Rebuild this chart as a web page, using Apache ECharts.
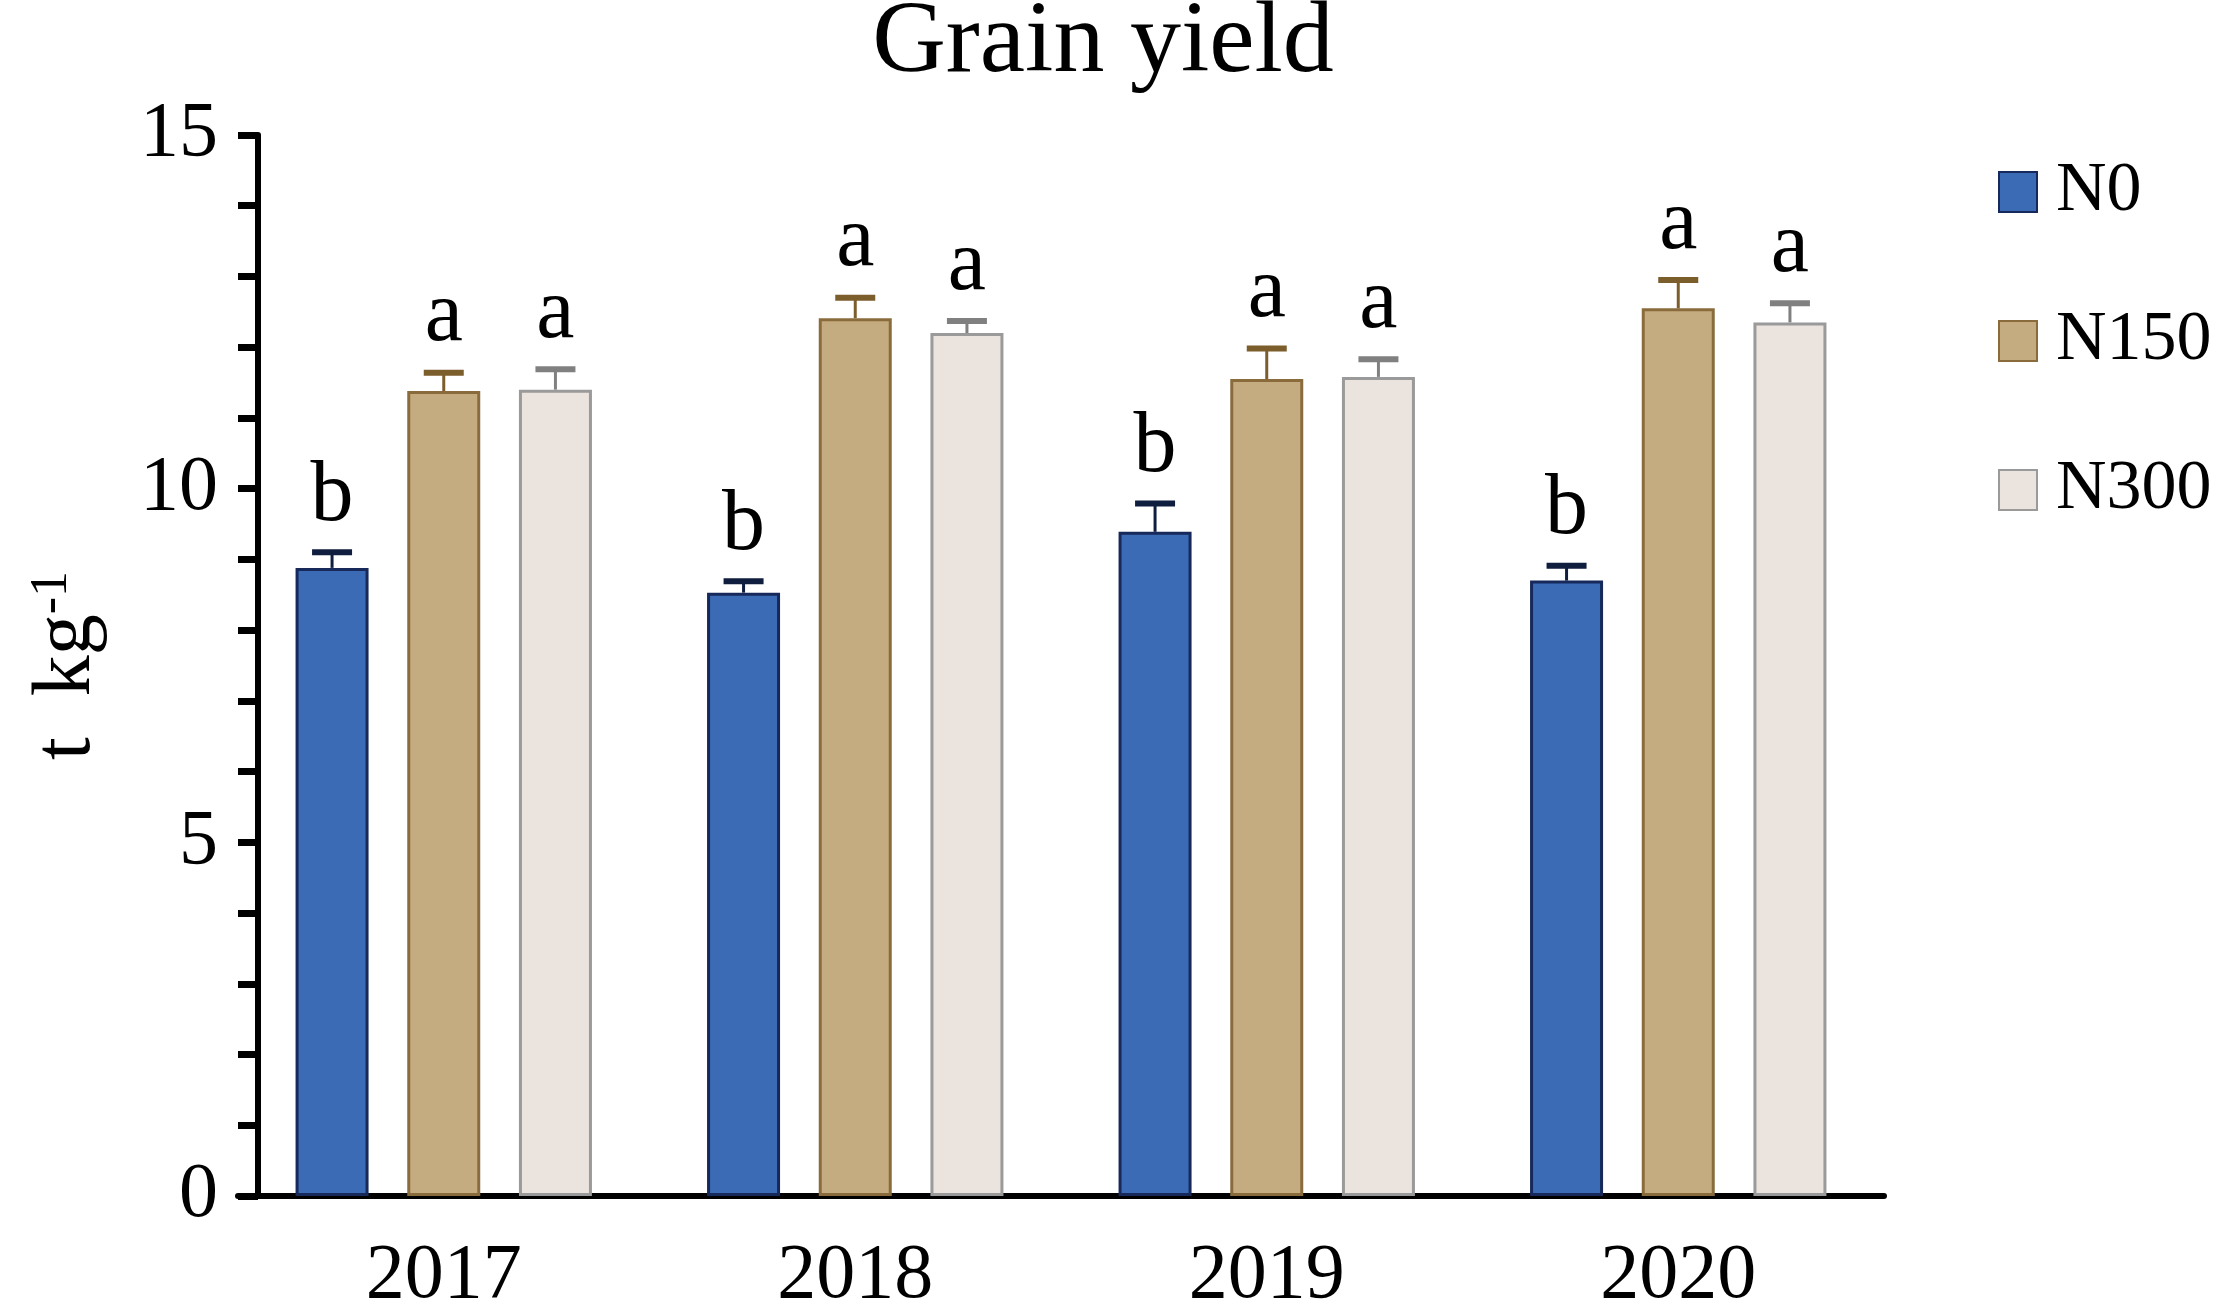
<!DOCTYPE html>
<html>
<head>
<meta charset="utf-8">
<script src="https://cdn.jsdelivr.net/npm/echarts@6/dist/echarts.min.js"></script>
<style>
  html, body { margin: 0; padding: 0; background: #fff; }
  #chart { width: 2217px; height: 1316px; }
</style>
</head>
<body>
<div id="chart"></div>
<script>
var years = ['2017', '2018', '2019', '2020']
var seriesNames = ['N0', 'N150', 'N300']

// means and standard errors, t kg-1
var n0 = [8.88, 8.53, 9.39, 8.70]
var n150 = [11.38, 12.41, 11.55, 12.55]
var n300 = [11.40, 12.20, 11.58, 12.35]
var n0Err = [0.22, 0.16, 0.40, 0.21]
var n150Err = [0.26, 0.29, 0.43, 0.40]
var n300Err = [0.29, 0.17, 0.25, 0.27]
var n0Letters = ['b', 'b', 'b', 'b']
var n150Letters = ['a', 'a', 'a', 'a']
var n300Letters = ['a', 'a', 'a', 'a']

var yTicks = [0, 5, 10, 15]

var FONT = '"Liberation Serif", "Times New Roman", serif'
var BAR_W = 73
var BAR_GAP = 0.53
var STEP = BAR_W * (1 + BAR_GAP)

var fills = ['#3b6bb4', '#c4ab80', '#ebe3dd']
var borders = ['#16295a', '#8a6c3c', '#9a9a9a']
var errColors = ['#0f1d3e', '#7c5d2c', '#808080']

var means = [n0, n150, n300]
var errs = [n0Err, n150Err, n300Err]
var letters = [n0Letters, n150Letters, n300Letters]

var chart = echarts.init(document.getElementById('chart'), null, {renderer: 'canvas'})

function barSeries (i) {
  return {
    name: seriesNames[i],
    type: 'bar',
    barWidth: BAR_W,
    barGap: (BAR_GAP * 100) + '%',
    itemStyle: {
      color: fills[i],
      borderColor: borders[i],
      borderWidth: 3
    },
    z: 2,
    data: means[i]
  }
}

function errSeries (i) {
  return {
    type: 'custom',
    z: 3,
    silent: true,
    data: means[i].map(function (v, k) { return [k, v, errs[i][k]] }),
    renderItem: function (params, api) {
      var cat = api.value(0)
      var mean = api.value(1)
      var err = api.value(2)
      var base = api.coord([cat, mean])
      var top = api.coord([cat, mean + err])
      var x = base[0] + (i - 1) * STEP
      var color = errColors[i]
      return {
        type: 'group',
        children: [{
          type: 'line',
          shape: {x1: x, y1: base[1], x2: x, y2: top[1]},
          style: {stroke: color, lineWidth: 3}
        }, {
          type: 'line',
          shape: {x1: x - 20, y1: top[1], x2: x + 20, y2: top[1]},
          style: {stroke: color, lineWidth: 6}
        }, {
          type: 'text',
          style: {
            text: letters[i][params.dataIndex],
            x: x,
            y: top[1] - 12,
            align: 'center',
            verticalAlign: 'bottom',
            fontSize: 86,
            fontFamily: FONT,
            fill: '#000'
          }
        }]
      }
    }
  }
}

var series = []
for (var s = 0; s < 3; s++) series.push(barSeries(s))
for (var e = 0; e < 3; e++) series.push(errSeries(e))

var option = {
  backgroundColor: '#fff',
  animation: false,
  title: {
    text: 'Grain yield',
    left: 1098,
    textAlign: 'center',
    top: -12,
    textStyle: {
      fontFamily: FONT,
      fontSize: 102,
      fontWeight: 'normal',
      color: '#000'
    }
  },
  legend: {
    data: seriesNames,
    orient: 'vertical',
    left: 1993,
    top: 152,
    icon: 'rect',
    itemWidth: 38,
    itemHeight: 40,
    itemGap: 79,
    textStyle: {
      fontFamily: FONT,
      fontSize: 70,
      color: '#000',
      padding: [0, 0, 0, 14]
    }
  },
  grid: {
    left: 238,
    right: 333,
    top: 135,
    bottom: 108,
    containLabel: false
  },
  xAxis: {
    type: 'category',
    data: years,
    axisLine: {
      lineStyle: {color: '#000', width: 6}
    },
    axisTick: {
      alignWithLabel: true,
      length: 26,
      lineStyle: {color: '#000', width: 7}
    },
    axisLabel: {
      margin: 42,
      fontFamily: FONT,
      fontSize: 78,
      color: '#000'
    }
  },
  yAxis: {
    type: 'value',
    min: yTicks[0],
    max: yTicks[yTicks.length - 1],
    interval: 5,
    offset: -20,
    name: 't  kg{sup|-1}',
    nameLocation: 'middle',
    nameGap: 150,
    nameRotate: 90,
    nameTextStyle: {
      fontFamily: FONT,
      fontSize: 82,
      color: '#000',
      rich: {
        sup: {
          fontFamily: FONT,
          fontSize: 52,
          verticalAlign: 'top',
          color: '#000'
        }
      }
    },
    axisLine: {
      show: true,
      lineStyle: {color: '#000', width: 6}
    },
    axisTick: {
      show: true,
      length: 20,
      lineStyle: {color: '#000', width: 7}
    },
    minorTick: {
      show: true,
      splitNumber: 5,
      length: 20,
      lineStyle: {color: '#000', width: 7}
    },
    splitLine: {show: false},
    axisLabel: {
      margin: 40,
      fontFamily: FONT,
      fontSize: 78,
      color: '#000'
    }
  },
  series: series
}

chart.setOption(option)
</script>
</body>
</html>
